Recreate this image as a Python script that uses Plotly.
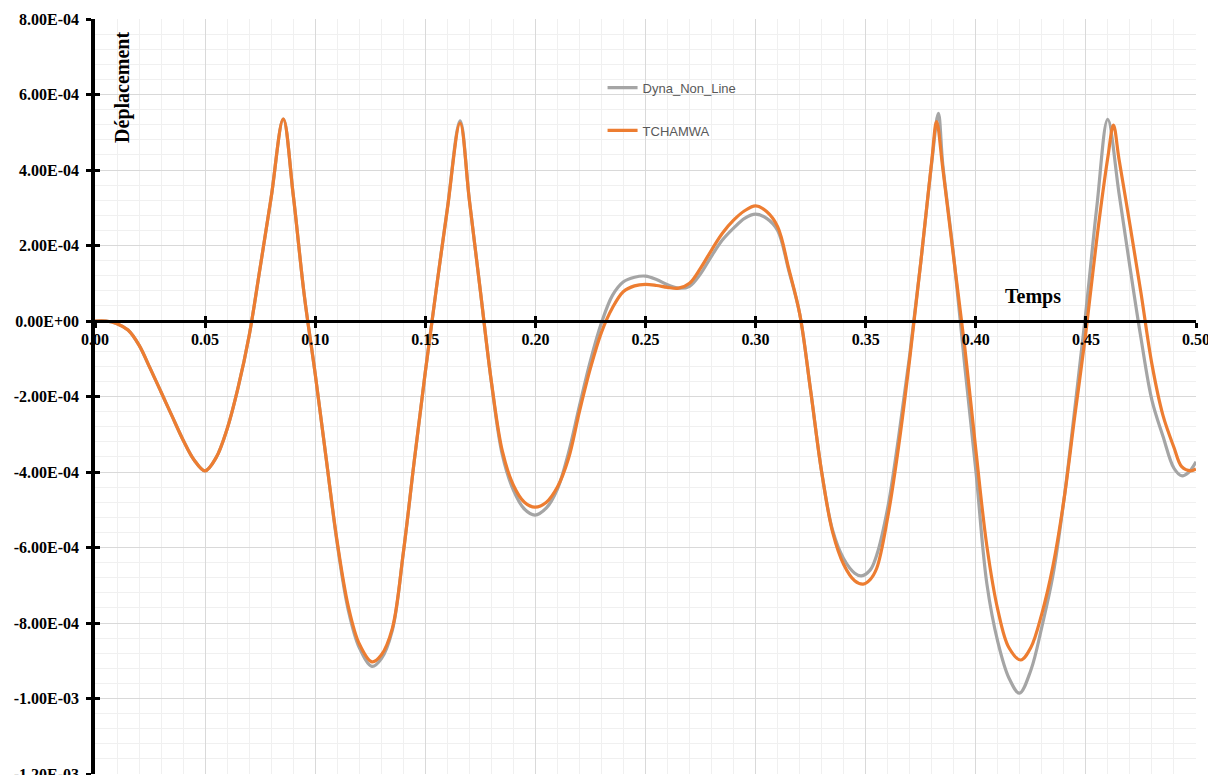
import plotly.graph_objects as go

# ---------------- data ----------------
t_tchamwa = [0.000, 0.005, 0.010, 0.015, 0.020, 0.025, 0.030, 0.035, 0.040, 0.045,
             0.050, 0.055, 0.060, 0.065, 0.070, 0.075, 0.080, 0.0855, 0.090, 0.095,
             0.100, 0.105, 0.110, 0.115, 0.120, 0.1258, 0.130, 0.135, 0.140, 0.145,
             0.150, 0.155, 0.160, 0.1658, 0.170, 0.175, 0.180, 0.185, 0.190, 0.195,
             0.1998, 0.205, 0.210, 0.215, 0.220, 0.225, 0.230, 0.235, 0.240, 0.245,
             0.250, 0.255, 0.260, 0.265, 0.270, 0.275, 0.280, 0.285, 0.290, 0.295,
             0.300, 0.305, 0.310, 0.315, 0.320, 0.325, 0.330, 0.335, 0.340, 0.345,
             0.3488, 0.352, 0.355, 0.360, 0.365, 0.370, 0.375, 0.380, 0.3822, 0.385,
             0.390, 0.395, 0.400, 0.405, 0.410, 0.415, 0.4204, 0.425, 0.430, 0.435,
             0.440, 0.445, 0.450, 0.455, 0.460, 0.4625, 0.465, 0.470, 0.475, 0.480,
             0.485, 0.490, 0.4935, 0.4976, 0.500]
y_tchamwa = [0.0, 0.0, -0.07e-4, -0.24e-4, -0.64e-4, -1.25e-4, -1.88e-4, -2.52e-4, -3.15e-4, -3.68e-4,
             -3.97e-4, -3.62e-4, -2.86e-4, -1.76e-4, -0.39e-4, 1.42e-4, 3.27e-4, 5.35e-4, 3.35e-4, 0.70e-4,
             -1.40e-4, -3.65e-4, -5.85e-4, -7.55e-4, -8.55e-4, -9.03e-4, -8.85e-4, -8.15e-4, -6.15e-4, -3.70e-4,
             -1.35e-4, 0.85e-4, 2.95e-4, 5.24e-4, 3.21e-4, 0.80e-4, -1.60e-4, -3.45e-4, -4.35e-4, -4.80e-4,
             -4.93e-4, -4.80e-4, -4.40e-4, -3.65e-4, -2.40e-4, -1.25e-4, -0.30e-4, 0.35e-4, 0.78e-4, 0.93e-4,
             0.97e-4, 0.94e-4, 0.89e-4, 0.87e-4, 1.00e-4, 1.40e-4, 1.88e-4, 2.33e-4, 2.67e-4, 2.92e-4,
             3.05e-4, 2.90e-4, 2.50e-4, 1.40e-4, 0.20e-4, -1.85e-4, -4.00e-4, -5.60e-4, -6.45e-4, -6.88e-4,
             -6.97e-4, -6.85e-4, -6.55e-4, -5.20e-4, -3.30e-4, -1.00e-4, 1.55e-4, 4.25e-4, 5.28e-4, 4.05e-4,
             1.65e-4, -0.70e-4, -3.40e-4, -5.95e-4, -7.65e-4, -8.65e-4, -8.98e-4, -8.65e-4, -7.75e-4, -6.50e-4,
             -4.75e-4, -2.50e-4, -0.30e-4, 2.20e-4, 4.35e-4, 5.19e-4, 4.30e-4, 2.55e-4, 0.75e-4, -1.15e-4,
             -2.50e-4, -3.35e-4, -3.86e-4, -3.97e-4, -3.92e-4]

t_dyna = [0.000, 0.005, 0.010, 0.015, 0.020, 0.025, 0.030, 0.035, 0.040, 0.045,
          0.050, 0.055, 0.060, 0.065, 0.070, 0.075, 0.080, 0.0855, 0.090, 0.095,
          0.100, 0.105, 0.110, 0.115, 0.120, 0.1258, 0.130, 0.135, 0.140, 0.145,
          0.150, 0.155, 0.160, 0.1658, 0.170, 0.175, 0.180, 0.185, 0.190, 0.195,
          0.1998, 0.205, 0.210, 0.215, 0.220, 0.225, 0.230, 0.235, 0.240, 0.245,
          0.250, 0.255, 0.260, 0.265, 0.270, 0.275, 0.280, 0.285, 0.290, 0.295,
          0.300, 0.305, 0.310, 0.315, 0.320, 0.325, 0.330, 0.335, 0.340, 0.345,
          0.348, 0.352, 0.355, 0.360, 0.365, 0.370, 0.375, 0.380, 0.383, 0.385,
          0.390, 0.395, 0.400, 0.405, 0.410, 0.415, 0.4198, 0.425, 0.430, 0.435,
          0.440, 0.445, 0.450, 0.455, 0.4599, 0.465, 0.470, 0.475, 0.480, 0.485,
          0.490, 0.4935, 0.4965, 0.500]
y_dyna = [0.0, 0.0, -0.07e-4, -0.24e-4, -0.64e-4, -1.25e-4, -1.88e-4, -2.52e-4, -3.15e-4, -3.68e-4,
          -3.97e-4, -3.62e-4, -2.86e-4, -1.76e-4, -0.39e-4, 1.42e-4, 3.27e-4, 5.35e-4, 3.35e-4, 0.70e-4,
          -1.40e-4, -3.65e-4, -5.90e-4, -7.65e-4, -8.65e-4, -9.15e-4, -8.95e-4, -8.20e-4, -6.15e-4, -3.70e-4,
          -1.35e-4, 0.85e-4, 2.98e-4, 5.30e-4, 3.21e-4, 0.80e-4, -1.62e-4, -3.55e-4, -4.48e-4, -4.98e-4,
          -5.14e-4, -4.95e-4, -4.45e-4, -3.50e-4, -2.25e-4, -1.05e-4, -0.05e-4, 0.68e-4, 1.04e-4, 1.16e-4,
          1.19e-4, 1.10e-4, 0.96e-4, 0.87e-4, 0.92e-4, 1.25e-4, 1.72e-4, 2.15e-4, 2.46e-4, 2.72e-4,
          2.83e-4, 2.72e-4, 2.40e-4, 1.35e-4, 0.20e-4, -1.85e-4, -4.00e-4, -5.55e-4, -6.30e-4, -6.68e-4,
          -6.75e-4, -6.60e-4, -6.20e-4, -4.95e-4, -3.05e-4, -0.90e-4, 1.55e-4, 4.20e-4, 5.50e-4, 4.15e-4,
          1.70e-4, -1.20e-4, -3.95e-4, -6.95e-4, -8.50e-4, -9.45e-4, -9.86e-4, -9.25e-4, -8.10e-4, -6.75e-4,
          -4.75e-4, -2.30e-4, 0.25e-4, 3.05e-4, 5.34e-4, 3.40e-4, 1.43e-4, -0.45e-4, -2.10e-4, -3.05e-4,
          -3.90e-4, -4.10e-4, -4.02e-4, -3.73e-4]

x_tick_vals = [0.00, 0.05, 0.10, 0.15, 0.20, 0.25, 0.30, 0.35, 0.40, 0.45, 0.50]
x_tick_labels = ["0.00", "0.05", "0.10", "0.15", "0.20", "0.25", "0.30", "0.35", "0.40", "0.45", "0.50"]
y_tick_vals = [-1.2e-3, -1.0e-3, -8e-4, -6e-4, -4e-4, -2e-4, 0.0, 2e-4, 4e-4, 6e-4, 8e-4]
y_tick_labels = ["-1.20E-03", "-1.00E-03", "-8.00E-04", "-6.00E-04", "-4.00E-04", "-2.00E-04",
                 "0.00E+00", "2.00E-04", "4.00E-04", "6.00E-04", "8.00E-04"]

series_names = ["Dyna_Non_Line", "TCHAMWA"]
x_title = "Temps"
y_title = "Déplacement"

# ---------------- figure ----------------
SERIF = "Liberation Serif, Times New Roman, serif"
SANS = "Liberation Sans, Arial, sans-serif"
XR = [0, 0.5]
YR = [-1.2e-3, 8e-4]

fig = go.Figure()
fig.add_trace(go.Scatter(x=t_dyna, y=y_dyna, name=series_names[0], mode="lines",
                         line=dict(color="#A5A5A5", width=3.2, shape="spline", smoothing=1.0),
                         legendgroup="g1"))
fig.add_trace(go.Scatter(x=t_tchamwa, y=y_tchamwa, name=series_names[1], mode="lines",
                         line=dict(color="#ED7D31", width=3.2, shape="spline", smoothing=1.0),
                         legendgroup="g2"))
# helper traces so the companion axes (for crossing tick marks) are drawn
fig.add_trace(go.Scatter(x=[None], y=[None], xaxis="x2", yaxis="y", showlegend=False, hoverinfo="skip"))
fig.add_trace(go.Scatter(x=[None], y=[None], xaxis="x", yaxis="y2", showlegend=False, hoverinfo="skip"))

tickfont = dict(family=SERIF, size=16, color="black", weight="bold")

# the page body adds an 8px offset, so the figure is 8px smaller on each axis
fig.update_layout(
    width=1208, height=767,
    margin=dict(l=87, r=20, t=11, b=1, autoexpand=False),
    paper_bgcolor="white", plot_bgcolor="white",
    showlegend=True,
    legend=dict(x=0.461, y=0.929, xanchor="left", yanchor="top",
                bgcolor="rgba(0,0,0,0)", font=dict(family=SANS, size=13, color="#595959"),
                tracegroupgap=23, itemwidth=30),
    xaxis=dict(range=XR, anchor="free", position=0.6, showline=True, linecolor="black",
               linewidth=3, ticks="outside", ticklen=5, tickwidth=3, tickcolor="black",
               tickvals=x_tick_vals, ticktext=x_tick_labels, tickfont=tickfont,
               showgrid=True, gridcolor="#D9D9D9", gridwidth=1, zeroline=False,
               minor=dict(dtick=0.01, showgrid=True, gridcolor="#F0F0F0", gridwidth=1, ticks=""),
               ticklabelstandoff=-2, ticklabeloverflow="allow", automargin=False),
    xaxis2=dict(range=XR, overlaying="x", anchor="free", position=0.6, showline=False,
                ticks="inside", ticklen=5, tickwidth=3, tickcolor="black",
                tickvals=x_tick_vals, showticklabels=False, showgrid=False, zeroline=False,
                automargin=False),
    yaxis=dict(range=YR, anchor="x", showline=True, linecolor="black", linewidth=3.5,
               ticks="outside", ticklen=5, tickwidth=3, tickcolor="black",
               tickvals=y_tick_vals, ticktext=y_tick_labels, tickfont=tickfont,
               showgrid=True, gridcolor="#D9D9D9", gridwidth=1, zeroline=False,
               minor=dict(dtick=4e-5, showgrid=True, gridcolor="#F0F0F0", gridwidth=1, ticks=""),
               ticklabelstandoff=4, ticklabeloverflow="allow", automargin=False),
    yaxis2=dict(range=YR, overlaying="y", anchor="x", side="left", showline=False,
                ticks="inside", ticklen=5, tickwidth=3, tickcolor="black",
                tickvals=y_tick_vals, showticklabels=False, showgrid=False, zeroline=False,
                automargin=False),
    annotations=[
        dict(text=y_title, x=0.0127, y=6.2e-4, xref="x", yref="y", textangle=-90,
             showarrow=False, xanchor="center", yanchor="middle",
             font=dict(family=SERIF, size=20, color="black", weight="bold")),
        dict(text=x_title, x=0.426, y=0.64e-4, xref="x", yref="y",
             showarrow=False, xanchor="center", yanchor="middle",
             font=dict(family=SERIF, size=20, color="black", weight="bold")),
    ],
)

fig.write_html("out.html")
